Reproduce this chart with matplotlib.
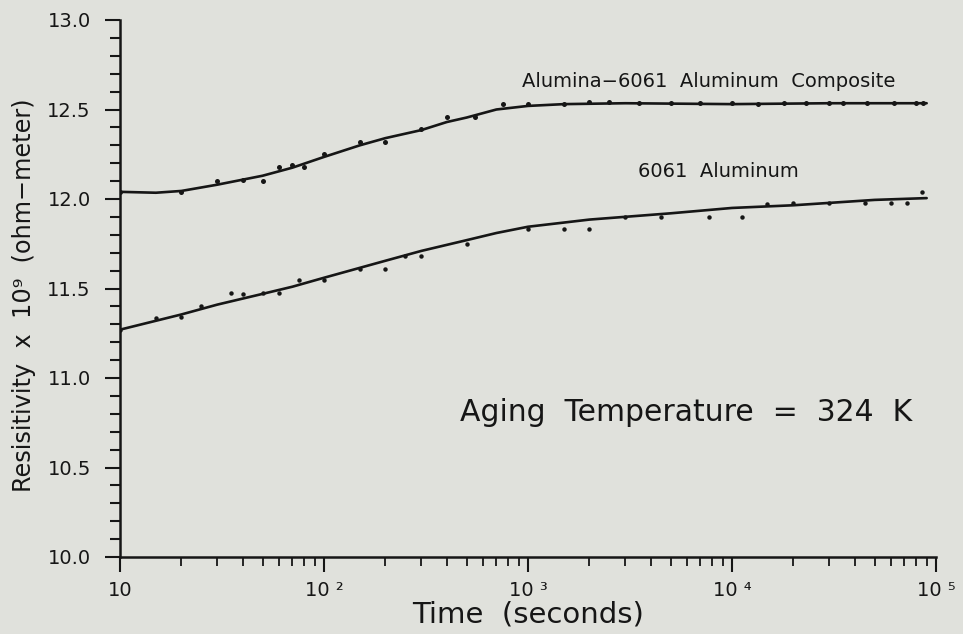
import numpy as np
import matplotlib
matplotlib.use("Agg")
import matplotlib.pyplot as plt
from matplotlib.ticker import FixedLocator, NullFormatter, LogLocator

plt.rcParams['font.family'] = ['DejaVu Sans']

# ---- data ----
# Alumina-6061 Aluminum composite: measured points
comp_t = [10, 20, 30, 40, 50, 60, 70, 80, 100, 150, 200, 300, 400, 550, 750,
          1000, 1500, 2000, 2500, 3500, 5000, 7000, 10000, 13400, 18000,
          23000, 30000, 35000, 46000, 62000, 80000, 86000]
comp_r = [12.04, 12.04, 12.10, 12.105, 12.10, 12.18, 12.19, 12.18, 12.25, 12.32,
          12.32, 12.39, 12.46, 12.46, 12.53, 12.53, 12.53, 12.54, 12.54, 12.535,
          12.535, 12.535, 12.535, 12.53, 12.535, 12.535, 12.535, 12.535, 12.535,
          12.535, 12.535, 12.535]
# composite: fitted curve
comp_fit_t = [10, 15, 20, 30, 50, 70, 100, 150, 200, 300, 400, 500, 700, 1000,
              1500, 3000, 10000, 30000, 90000]
comp_fit_r = [12.04, 12.035, 12.045, 12.08, 12.13, 12.175, 12.235, 12.30, 12.34,
              12.385, 12.43, 12.455, 12.50, 12.52, 12.53, 12.535, 12.53, 12.535,
              12.535]

# 6061 Aluminum: measured points
al_t = [10, 15, 20, 25, 35, 40, 50, 60, 75, 100, 150, 200, 250, 300, 500, 1000,
        1500, 2000, 3000, 4500, 7700, 11200, 14800, 20000, 30000, 45000, 60000,
        72000, 85000]
al_r = [11.27, 11.335, 11.34, 11.405, 11.475, 11.47, 11.475, 11.475, 11.55,
        11.545, 11.61, 11.61, 11.68, 11.68, 11.75, 11.83, 11.83, 11.83, 11.90,
        11.90, 11.90, 11.90, 11.97, 11.975, 11.975, 11.975, 11.975, 11.975, 12.04]
# 6061 Aluminum: fitted curve
al_fit_t = [10, 20, 30, 50, 70, 100, 200, 300, 500, 700, 1000, 2000, 5000,
            10000, 20000, 50000, 90000]
al_fit_r = [11.27, 11.355, 11.41, 11.47, 11.51, 11.56, 11.655, 11.71, 11.77,
            11.81, 11.845, 11.885, 11.92, 11.95, 11.965, 11.995, 12.005]

x_tick_vals = [10, 100, 1000, 10000, 100000]
x_tick_labels = ["10", "10 ²", "10 ³", "10 ⁴", "10 ⁵"]
y_tick_vals = [10.0, 10.5, 11.0, 11.5, 12.0, 12.5, 13.0]
y_tick_labels = ["10.0", "10.5", "11.0", "11.5", "12.0", "12.5", "13.0"]

bg = '#e0e1dc'
ink = '#161616'

fig = plt.figure(figsize=(9.63, 6.34), dpi=100, facecolor=bg)
ax = fig.add_axes([120/963, 1-557/634, (936-120)/963, (557-20)/634])
ax.set_facecolor(bg)

ax.plot(comp_fit_t, comp_fit_r, color=ink, lw=1.9, solid_capstyle='round')
ax.plot(al_fit_t, al_fit_r, color=ink, lw=1.9, solid_capstyle='round')
ax.plot(comp_t, comp_r, 'o', color=ink, ms=3.6, mew=0)
ax.plot(al_t, al_r, 'o', color=ink, ms=3.2, mew=0)

ax.set_xscale('log')
ax.set_xlim(10, 100000)
ax.set_ylim(10.0, 13.0)

ax.xaxis.set_major_locator(FixedLocator(x_tick_vals))
ax.set_xticklabels(x_tick_labels)
ax.xaxis.set_minor_locator(LogLocator(base=10, subs=np.arange(2, 10)))
ax.xaxis.set_minor_formatter(NullFormatter())
ax.yaxis.set_major_locator(FixedLocator(y_tick_vals))
ax.set_yticklabels(y_tick_labels)
ax.yaxis.set_minor_locator(FixedLocator(np.arange(10.0, 13.01, 0.1)))

for s in ['top', 'right']:
    ax.spines[s].set_visible(False)
for s in ['left', 'bottom']:
    ax.spines[s].set_linewidth(1.8)
    ax.spines[s].set_color(ink)

ax.tick_params(axis='y', which='major', direction='out', length=11, width=1.5,
               pad=10, labelsize=14, colors=ink)
ax.tick_params(axis='y', which='minor', direction='out', length=7.5, width=1.5,
               colors=ink)
ax.tick_params(axis='x', which='major', direction='out', length=11, width=1.5,
               pad=6, labelsize=14, colors=ink)
ax.tick_params(axis='x', which='minor', direction='out', length=6.5, width=1.3,
               colors=ink)

ax.set_xlabel("Time  (seconds)", fontsize=21, color=ink, labelpad=1)
ax.set_ylabel("Resisitivity  x  10⁹  (ohm−meter)", fontsize=17.3, color=ink,
              labelpad=8)
ax.yaxis.label.set_y(0.488)

ax.text(933, 12.625, "Alumina−6061  Aluminum  Composite", fontsize=14,
        color=ink, ha='left', va='baseline')
ax.text(3470, 12.123, "6061  Aluminum", fontsize=14, color=ink,
        ha='left', va='baseline')
ax.text(464, 10.76, "Aging  Temperature  =  324  K", fontsize=21.5, color=ink,
        ha='left', va='baseline')

fig.savefig("out.png", dpi=100, facecolor=bg)
